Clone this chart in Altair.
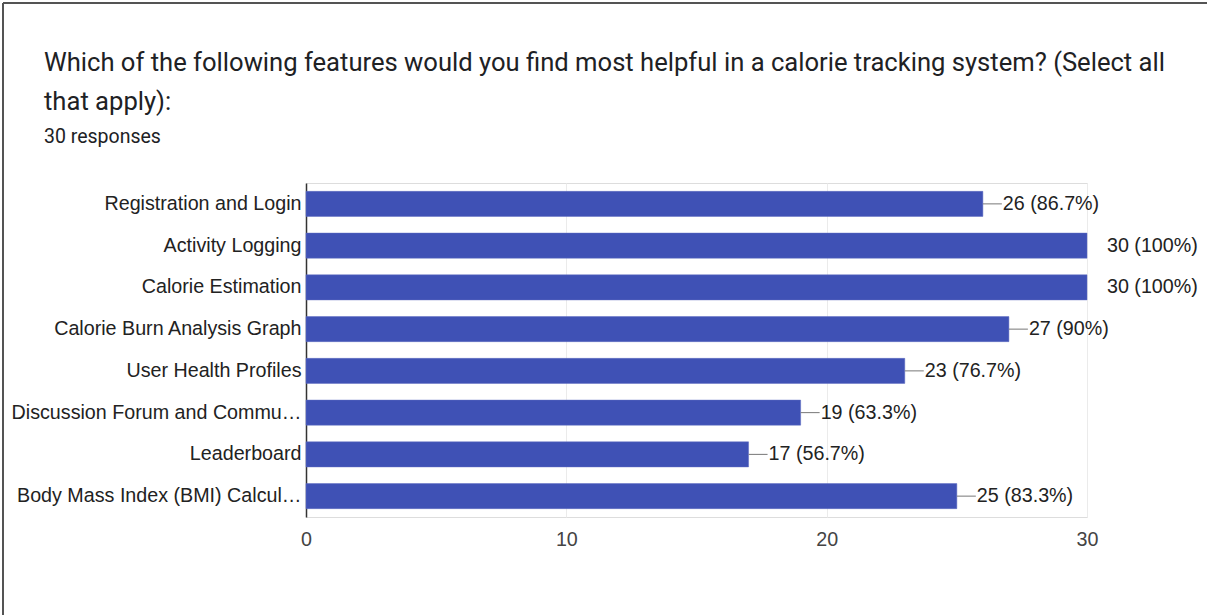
import altair as alt
import pandas as pd

categories = [
    "Registration and Login",
    "Activity Logging",
    "Calorie Estimation",
    "Calorie Burn Analysis Graph",
    "User Health Profiles",
    "Discussion Forum and Commu…",
    "Leaderboard",
    "Body Mass Index (BMI) Calcul…",
]
counts = [26, 30, 30, 27, 23, 19, 17, 25]
pct_labels = ["86.7%", "100%", "100%", "90%", "76.7%", "63.3%", "56.7%", "83.3%"]
x_ticks = [0, 10, 20, 30]

df = pd.DataFrame({
    "feature": categories,
    "count": counts,
    "label": [f"{c} ({p})" for c, p in zip(counts, pct_labels)],
})

FONT = "Arial, Liberation Sans"
FS = 19.7

y_enc = alt.Y(
    "feature:N",
    sort=categories,
    title=None,
    scale=alt.Scale(paddingInner=0.4, paddingOuter=0.2),
    axis=alt.Axis(
        labelFontSize=FS, labelFont=FONT, labelColor="#222222",
        labelPadding=5, labelLimit=400, ticks=False, grid=False,
        domainColor="#333333", domainWidth=1.5,
    ),
)
x_enc = alt.X(
    "count:Q",
    title=None,
    scale=alt.Scale(domain=[0, 30], nice=False),
    axis=alt.Axis(
        values=x_ticks, labelFontSize=FS, labelFont=FONT, labelColor="#444444",
        labelPadding=12, labelFlush=False, ticks=False, domain=False, grid=True,
        gridColor="#ebebeb", gridWidth=1,
    ),
)

base = alt.Chart(df)

bars = base.mark_bar(color="#3f51b5", stroke="#5c6bc0", strokeWidth=0.5).encode(y=y_enc, x=x_enc)

leaders = base.transform_filter("datum.count < 30").mark_rule(
    color="#777777", strokeWidth=1, x2Offset=19
).encode(y=alt.Y("feature:N", sort=categories), x="count:Q", x2="count:Q")

texts = base.mark_text(
    align="left", baseline="middle", dx=20, fontSize=FS, font=FONT, color="#222222"
).encode(y=alt.Y("feature:N", sort=categories), x="count:Q", text="label:N")

border_top = alt.Chart(df).mark_rule(color="#555555", strokeWidth=1.5).encode(
    x=alt.value(-303), x2=alt.value(901), y=alt.value(-180)
)
border_left = alt.Chart(df).mark_rule(color="#555555", strokeWidth=1.5).encode(
    x=alt.value(-303), y=alt.value(-180), y2=alt.value(432)
)

chart = alt.layer(bars, leaders, texts, border_top, border_left).properties(
    width=781,
    height=334,
    autosize=alt.AutoSizeParams(type="none"),
    padding={"left": 306, "top": 183, "right": 120, "bottom": 98},
    title=alt.Title(
        text=[
            "Which of the following features would you find most helpful in a calorie tracking system? (Select all",
            "that apply):",
        ],
        subtitle="30 responses",
        anchor="start",
        frame="group",
        dx=-262,
        offset=-144,
        font="Roboto",
        fontSize=25.6,
        fontWeight="normal",
        color="#202124",
        lineHeight=39,
        subtitleFont="Roboto",
        subtitleFontSize=19.5,
        subtitleColor="#202124",
        subtitlePadding=12,
    ),
).configure_view(stroke="#e6e6e6", strokeWidth=1).configure(background="white")

chart.save("out.html", embed_options={"renderer": "svg", "actions": False})
